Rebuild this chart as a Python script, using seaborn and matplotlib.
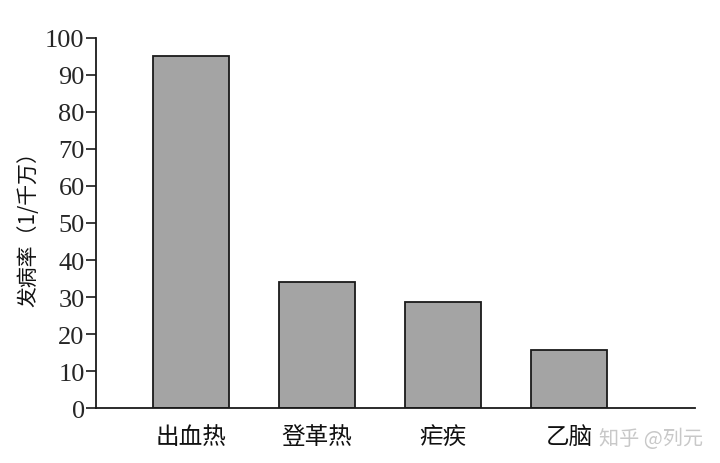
import matplotlib
matplotlib.use('Agg')
import pandas as pd
import seaborn as sns
import matplotlib.pyplot as plt

diseases = ['出血热', '登革热', '疟疾', '乙脑']
rates = [95, 34, 28.7, 15.8]
yticks = list(range(0, 101, 10))

sns.set_theme(style='ticks')
plt.rcParams['font.family'] = ['Noto Sans CJK SC', 'DejaVu Sans']

df = pd.DataFrame({'disease': diseases, 'rate': rates})

fig = plt.figure(figsize=(7.2, 4.64), dpi=100)
ax = fig.add_axes([0.133, 0.1185, 0.832, 0.7975])

sns.barplot(data=df, x='disease', y='rate', color='#a4a4a4', width=0.6,
            edgecolor='#1a1a1a', linewidth=1.3, saturation=1, ax=ax)

ax.set_xlim(-0.758, 3.996)
ax.set_ylim(0, 100)
ax.set_yticks(yticks)
ax.set_yticklabels([str(t) for t in yticks], family='Liberation Serif', fontsize=19)
ax.tick_params(axis='y', direction='out', length=7, width=1.2, color='#1a1a1a', pad=1)
ax.tick_params(axis='x', length=0, pad=12, labelsize=17)
for lab in ax.get_xticklabels():
    lab.set_color('#111111')

ax.set_xlabel('')
ax.set_ylabel('发病率（1/千万）', fontsize=15, labelpad=4, color='#111111')

sns.despine(ax=ax)
ax.spines['left'].set_linewidth(1.3)
ax.spines['bottom'].set_linewidth(1.3)
ax.spines['left'].set_color('#1a1a1a')
ax.spines['bottom'].set_color('#1a1a1a')

# watermark
fig.text(0.976, 0.03, '知乎 @列元', ha='right', va='bottom', fontsize=14.5, color='#c8c8c8')

fig.savefig('out.png', dpi=100)
